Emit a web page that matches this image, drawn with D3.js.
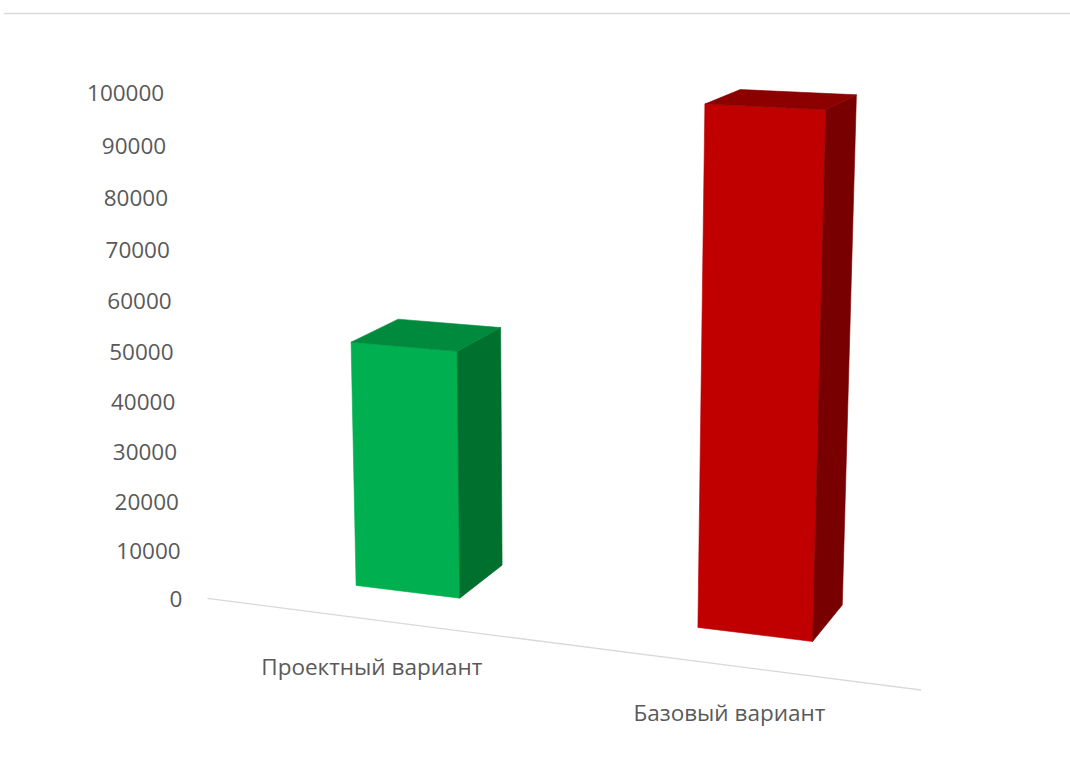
<!DOCTYPE html>
<html>
<head>
<meta charset="utf-8">
<script src="https://cdn.jsdelivr.net/npm/d3@7/dist/d3.min.js"></script>
<style>
  html, body { margin: 0; padding: 0; background: #ffffff; }
  svg { display: block; }
  text { font-family: "Open Sans", "Noto Sans", "DejaVu Sans", sans-serif; fill: #595959; }
</style>
</head>
<body>
<svg id="chart" width="1070" height="765"></svg>
<script>
// ---- data ----
const categories = ["Проектный вариант", "Базовый вариант"];
const values = [50000, 100000];
const yTickValues = [0, 10000, 20000, 30000, 40000, 50000, 60000, 70000, 80000, 90000, 100000];
const frontColors = ["#00B050", "#C00000"];
const topColors = ["#008A3E", "#8C0000"];
const sideColors = ["#00702F", "#780000"];

// ---- 3D scene (world units) ----
const AXIS_LEN = 717, FLOOR_DEPTH = 290, BAR_DEPTH = 112, WALL_H = 500;
const x = d3.scaleBand().domain(categories).range([0, AXIS_LEN]).paddingInner(0.686).paddingOuter(0.343);
const y = d3.scaleLinear().domain([0, 100000]).range([0, WALL_H]);
const zFront = (FLOOR_DEPTH - BAR_DEPTH) / 2;

// camera (Excel-like rotation, perspective)
const deg = Math.PI / 180;
const th = 20.5 * deg, ph = 13.6 * deg;
const f = 2487, cx = 564, cy = 372;
const cam = { x: 1148.4, h: 793.6, z: -2059 };
const ex = [Math.cos(th), -Math.sin(th) * Math.sin(ph), -Math.sin(th) * Math.cos(ph)];
const ey = [0, Math.cos(ph), -Math.sin(ph)];
const ez = [Math.sin(th), Math.cos(th) * Math.sin(ph), Math.cos(th) * Math.cos(ph)];
function project(px, py, pz) {
  const a = px - cam.x, b = py - cam.h, c = pz - cam.z;
  const X = a * ex[0] + b * ey[0] + c * ez[0];
  const Y = a * ex[1] + b * ey[1] + c * ez[1];
  const Z = a * ex[2] + b * ey[2] + c * ez[2];
  return [cx + f * X / Z, cy - f * Y / Z];
}

const svg = d3.select("#chart");

// top border line of the chart area
svg.append("line")
  .attr("x1", 4).attr("x2", 1070).attr("y1", 13.5).attr("y2", 13.5)
  .attr("stroke", "#d9d9d9").attr("stroke-width", 1.6);

// category axis line (front edge of the floor)
const a0 = project(0, 0, 0), a1 = project(AXIS_LEN, 0, 0);
svg.append("line")
  .attr("x1", a0[0] + 3).attr("y1", a0[1]).attr("x2", a1[0]).attr("y2", a1[1])
  .attr("stroke", "#d9d9d9").attr("stroke-width", 1.3);

// value axis labels (at front-left corner)
svg.append("g").selectAll("text").data(yTickValues).join("text")
  .attr("x", d => project(0, y(d), 0)[0] - 22)
  .attr("y", d => project(0, y(d), 0)[1])
  .attr("text-anchor", "end")
  .attr("dominant-baseline", "central")
  .attr("font-size", 22.5)
  .text(d => d);

// bars
const line = d3.line();
const bars = categories.map((c, i) => ({ c, v: values[i], i }));
const g = svg.append("g");
bars.forEach(d => {
  const x0 = x(d.c), x1 = x0 + x.bandwidth();
  const z0 = zFront, z1 = zFront + BAR_DEPTH;
  const h = y(d.v);
  const faces = [
    { pts: [[x0, 0, z0], [x1, 0, z0], [x1, h, z0], [x0, h, z0]], fill: frontColors[d.i] },
    { pts: [[x1, 0, z0], [x1, 0, z1], [x1, h, z1], [x1, h, z0]], fill: sideColors[d.i] },
    { pts: [[x0, h, z0], [x1, h, z0], [x1, h, z1], [x0, h, z1]], fill: topColors[d.i] }
  ];
  faces.forEach(fc => {
    g.append("path")
      .attr("d", line(fc.pts.map(p => project(p[0], p[1], p[2]))) + "Z")
      .attr("fill", fc.fill)
      .attr("stroke", fc.fill)
      .attr("stroke-width", 0.6)
      .attr("stroke-linejoin", "round");
  });
});

// category labels
svg.append("g").selectAll("text").data(categories).join("text")
  .attr("x", d => project(x(d) + x.bandwidth() / 2, 0, 0)[0] + 2)
  .attr("y", d => project(x(d) + x.bandwidth() / 2, 0, 0)[1] + 47)
  .attr("text-anchor", "middle")
  .attr("dominant-baseline", "central")
  .attr("font-size", 22.5)
  .text(d => d);
</script>
</body>
</html>
